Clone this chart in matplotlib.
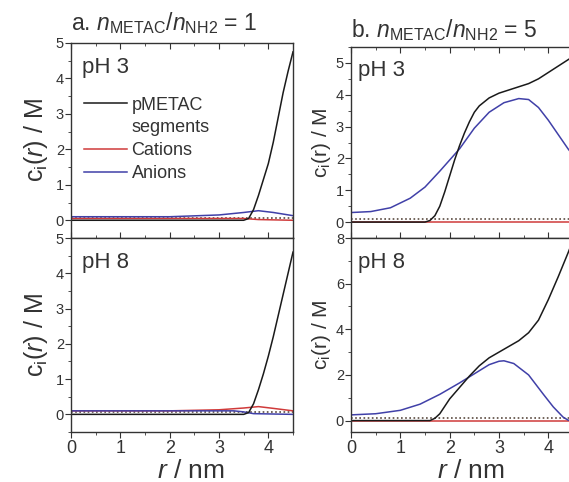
import numpy as np
import matplotlib
matplotlib.use("Agg")
import matplotlib.pyplot as plt
from matplotlib.lines import Line2D
from matplotlib.ticker import MultipleLocator

plt.rcParams['font.family'] = ['Liberation Sans', 'DejaVu Sans']
plt.rcParams['mathtext.fontset'] = 'custom'
plt.rcParams['mathtext.rm'] = 'Liberation Sans'
plt.rcParams['mathtext.it'] = 'Liberation Sans:italic'

BLACK = '#1a1a1a'
RED = '#d03a3a'
BLUE = '#4040a8'
DOT = '#5a4a40'
TXT = '#333333'

# --- a. nMETAC/nNH2 = 1, pH 3 ---
a3_seg_x = [0, 3.5, 3.6, 3.7, 3.8, 3.9, 4.0, 4.1, 4.2, 4.3, 4.4, 4.5]
a3_seg_y = [0, 0, 0.05, 0.3, 0.7, 1.15, 1.6, 2.2, 2.9, 3.6, 4.2, 4.75]
a3_cat_x = [0, 3.0, 3.5, 3.8, 4.5]
a3_cat_y = [0.05, 0.05, 0.05, 0.02, 0.0]
a3_an_x = [0, 2.0, 3.0, 3.5, 3.8, 4.1, 4.5]
a3_an_y = [0.1, 0.1, 0.15, 0.22, 0.27, 0.22, 0.13]

# --- a. pH 8 ---
a8_seg_x = [0, 3.5, 3.6, 3.7, 3.8, 3.9, 4.0, 4.1, 4.2, 4.3, 4.4, 4.5]
a8_seg_y = [0, 0, 0.05, 0.3, 0.7, 1.15, 1.65, 2.2, 2.8, 3.4, 4.0, 4.6]
a8_cat_x = [0, 2.0, 3.0, 3.5, 3.8, 4.1, 4.5]
a8_cat_y = [0.1, 0.1, 0.13, 0.18, 0.22, 0.17, 0.1]
a8_an_x = [0, 3.3, 3.5, 3.7, 4.5]
a8_an_y = [0.1, 0.1, 0.07, 0.02, 0.0]

# --- b. nMETAC/nNH2 = 5, pH 3 ---
b3_seg_x = [0, 1.5, 1.6, 1.7, 1.8, 1.9, 2.0, 2.1, 2.2, 2.3, 2.4, 2.5, 2.6,
            2.8, 3.0, 3.2, 3.4, 3.6, 3.8, 4.0, 4.2, 4.4, 4.5]
b3_seg_y = [0, 0, 0.05, 0.2, 0.5, 0.95, 1.45, 1.95, 2.4, 2.8, 3.15, 3.45, 3.65,
            3.9, 4.05, 4.15, 4.25, 4.35, 4.5, 4.7, 4.9, 5.1, 5.2]
b3_cat_x = [0, 4.5]
b3_cat_y = [0.0, 0.0]
b3_an_x = [0, 0.4, 0.8, 1.2, 1.5, 1.8, 2.0, 2.2, 2.5, 2.8, 3.1, 3.4, 3.6,
           3.8, 4.0, 4.2, 4.4, 4.5]
b3_an_y = [0.3, 0.33, 0.45, 0.75, 1.1, 1.6, 1.95, 2.3, 2.95, 3.45, 3.75, 3.88, 3.85,
           3.6, 3.2, 2.75, 2.3, 2.1]

# --- b. pH 8 ---
b8_seg_x = [0, 1.6, 1.7, 1.8, 2.0, 2.2, 2.4, 2.6, 2.8, 3.0, 3.2, 3.4, 3.6,
            3.8, 4.0, 4.2, 4.4, 4.5]
b8_seg_y = [0, 0, 0.1, 0.3, 0.95, 1.45, 1.95, 2.4, 2.75, 3.0, 3.25, 3.5, 3.85,
            4.4, 5.3, 6.3, 7.35, 7.9]
b8_cat_x = [0, 4.5]
b8_cat_y = [0.0, 0.0]
b8_an_x = [0, 0.5, 1.0, 1.4, 1.8, 2.2, 2.5, 2.8, 3.0, 3.1, 3.3, 3.6, 3.9,
           4.1, 4.3, 4.4, 4.5]
b8_an_y = [0.25, 0.3, 0.45, 0.72, 1.15, 1.65, 2.05, 2.45, 2.6, 2.62, 2.5, 2.0, 1.15,
           0.6, 0.15, 0.02, 0.0]

# bulk level (dotted reference line)
bulk_x = [0, 4.5]
bulk_a = [0.06, 0.06]
bulk_b = [0.1, 0.1]

fig = plt.figure(figsize=(5.69, 4.82), dpi=100)
W, H = 569, 482


def px_axes(x0, y0, x1, y1):
    return fig.add_axes([x0 / W, 1 - y1 / H, (x1 - x0) / W, (y1 - y0) / H])


ax_a3 = px_axes(71, 43, 293, 238)
ax_a8 = px_axes(71, 238, 293, 432)
ax_b3 = px_axes(351, 47, 573, 238)
ax_b8 = px_axes(351, 238, 573, 432)

panels = [
    (ax_a3, a3_seg_x, a3_seg_y, a3_cat_x, a3_cat_y, a3_an_x, a3_an_y, bulk_a, 'pH 3', 0.05),
    (ax_a8, a8_seg_x, a8_seg_y, a8_cat_x, a8_cat_y, a8_an_x, a8_an_y, bulk_a, 'pH 8', 0.05),
    (ax_b3, b3_seg_x, b3_seg_y, b3_cat_x, b3_cat_y, b3_an_x, b3_an_y, bulk_b, 'pH 3', 0.03),
    (ax_b8, b8_seg_x, b8_seg_y, b8_cat_x, b8_cat_y, b8_an_x, b8_an_y, bulk_b, 'pH 8', 0.03),
]

for ax, sx, sy, cx, cy, ax_x, ax_y, bulk, ph, tx in panels:
    ax.plot(bulk_x, bulk, color=DOT, lw=1.2, ls=(0, (1, 1.5)))
    ax.plot(cx, cy, color=RED, lw=1.1)
    ax.plot(ax_x, ax_y, color=BLUE, lw=1.1)
    ax.plot(sx, sy, color=BLACK, lw=1.1)
    ax.set_xlim(0, 4.5)
    ax.xaxis.set_major_locator(MultipleLocator(1))
    ax.xaxis.set_minor_locator(MultipleLocator(0.5))
    for s in ax.spines.values():
        s.set_color('#333333')
        s.set_linewidth(1.0)
    ax.tick_params(axis='y', which='both', direction='out', left=True, right=False,
                   colors='#333333', labelcolor=TXT, labelsize=10.5, pad=1)
    ax.tick_params(axis='y', which='major', length=4)
    ax.tick_params(axis='y', which='minor', length=2.5)
    ax.tick_params(axis='x', which='both', direction='in', top=True,
                   colors='#333333', labelcolor=TXT, labelsize=13)
    ax.tick_params(axis='x', which='major', length=4)
    ax.tick_params(axis='x', which='minor', length=2.5)
    ax.text(tx, 0.93, ph, transform=ax.transAxes, ha='left', va='top',
            fontsize=16, color=TXT)

for ax in (ax_a3, ax_a8):
    ax.set_ylim(-0.5, 5)
    ax.yaxis.set_major_locator(MultipleLocator(1))
    ax.yaxis.set_minor_locator(MultipleLocator(0.5))
    ax.set_ylabel(r'c$_{\mathrm{i}}$($\mathit{r}$) / M', fontsize=18, color=TXT,
                  labelpad=4)

ax_b3.set_ylim(-0.5, 5.5)
ax_b3.yaxis.set_major_locator(MultipleLocator(1))
ax_b3.yaxis.set_minor_locator(MultipleLocator(0.5))
ax_b8.set_ylim(-0.5, 8)
ax_b8.yaxis.set_major_locator(MultipleLocator(2))
ax_b8.yaxis.set_minor_locator(MultipleLocator(1))
for ax in (ax_b3, ax_b8):
    ax.set_ylabel(r'c$_{\mathrm{i}}$(r) / M', fontsize=15, color=TXT, labelpad=2)

for ax in (ax_a3, ax_b3):
    ax.tick_params(axis='x', which='both', bottom=False, labelbottom=False)
for ax in (ax_a8, ax_b8):
    ax.tick_params(axis='x', which='both', direction='out', top=True, labeltop=False,
                   pad=2)
    ax.set_xlabel(r'$\mathit{r}$ / nm', fontsize=19, color=TXT, labelpad=0)
    ax.xaxis.set_label_coords(0.54, -0.14)

ax_a3.set_title(r'a. $\mathit{n}_{\mathrm{METAC}}$/$\mathit{n}_{\mathrm{NH2}}$ = 1',
                fontsize=16.5, color=TXT, loc='left', pad=9)
ax_b3.set_title(r'b. $\mathit{n}_{\mathrm{METAC}}$/$\mathit{n}_{\mathrm{NH2}}$ = 5',
                fontsize=16.5, color=TXT, loc='left', pad=7)

handles = [Line2D([], [], color=BLACK, lw=1.1), Line2D([], [], color='none'),
           Line2D([], [], color=RED, lw=1.1), Line2D([], [], color=BLUE, lw=1.1)]
labels = ['pMETAC', 'segments', 'Cations', 'Anions']
leg = ax_a3.legend(handles, labels, loc='upper left', bbox_to_anchor=(0.0, 0.79),
                   frameon=False, fontsize=13, handlelength=2.4,
                   handletextpad=0.25, labelspacing=0.32, borderaxespad=0.3)
for t in leg.get_texts():
    t.set_color(TXT)

fig.savefig('out.png', dpi=100)
